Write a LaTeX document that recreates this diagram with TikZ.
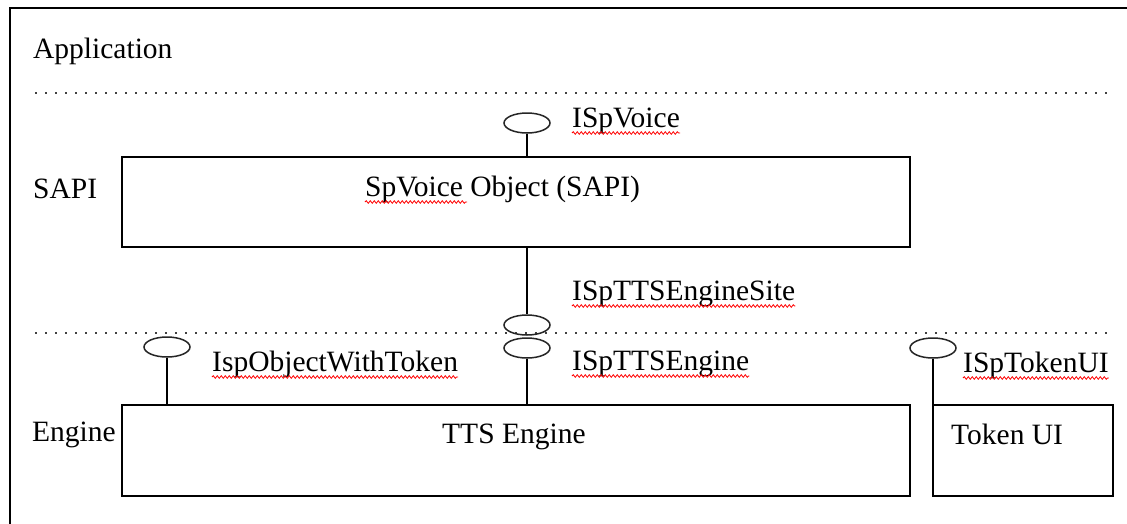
\documentclass[tikz,border=0pt]{standalone}
\usepackage{fontspec}
\setmainfont{Liberation Serif}
\usetikzlibrary{shapes.geometric,decorations.pathmorphing}
\begin{document}
\begin{tikzpicture}[x=1pt,y=-1pt,
  lbl/.style={anchor=base west,inner sep=0pt,font=\fontsize{29.5}{34}\selectfont},
  boxst/.style={draw,line width=1.5pt,rectangle,inner sep=0pt},
  lolli/.style={draw,ellipse,line width=1.5pt,minimum width=46pt,minimum height=20pt,inner sep=0pt,black!85},
  stem/.style={line width=1.5pt},
  sepline/.style={line width=1.6pt,dash pattern=on 1.6pt off 8.4pt,black!75},
  spell/.style={red,line width=0.8pt,decorate,decoration={snake,amplitude=1.3pt,segment length=4pt}}
]
\useasboundingbox (0,0) rectangle (1127,523);
\clip (0,0) rectangle (1127,523);
\fill[white] (0,0) rectangle (1127,523);
% outer frame (continues beyond the right and bottom edges)
\coordinate (fTR) at (1140,8);
\coordinate (fTL) at (10,8);
\coordinate (fBL) at (10,540);
\draw[line width=1.8pt] (fTR) -- (fTL) -- (fBL);

% layer separators
\coordinate (d1a) at (35,93);
\coordinate (d1b) at (1110,93);
\coordinate (d2a) at (35,333);
\coordinate (d2b) at (1110,333);
\draw[sepline] (d1a) -- (d1b);
\draw[sepline] (d2a) -- (d2b);

% layer labels
\node[lbl] (app) at (33,58) {Application};
\node[lbl] (sapil) at (33,198) {SAPI};
\node[lbl] (engl) at (32,441) {Engine};

% boxes
\node[boxst,minimum width=788pt,minimum height=90pt] (sapi) at (516,202) {};
\node[boxst,minimum width=788pt,minimum height=91pt] (tts) at (516,450.5) {};
\node[boxst,minimum width=180pt,minimum height=91pt] (tok) at (1023,450.5) {};

\node[lbl] (sv) at (365,196) {SpVoice Object (SAPI)};
\node[lbl] (ttst) at (442,443) {TTS Engine};
\node[lbl] (tokt) at (951,444) {Token UI};

% lollipops
\node[lolli] (voiceL) at (527,123) {};
\node[lolli] (siteL) at (527,325) {};
\node[lolli] (engL) at (527,348) {};
\node[lolli] (owtL) at (167,347) {};
\node[lolli] (tokL) at (933,348) {};

\draw[stem] (voiceL) -- (voiceL |- sapi.north);
\draw[stem] (sapi.south -| siteL) -- (siteL);
\draw[stem] (engL) -- (engL |- tts.north);
\draw[stem] (owtL) -- (owtL |- tts.north);
\draw[stem] (tokL) -- (tokL |- tok.north);

% interface labels
\node[lbl] (voice) at (572,127) {ISpVoice};
\node[lbl] (site) at (572,300) {ISpTTSEngineSite};
\node[lbl] (eng) at (572,370) {ISpTTSEngine};
\node[lbl] (owt) at (212,371) {IspObjectWithToken};
\node[lbl] (tui) at (963,372) {ISpTokenUI};

% spell-check underlines
\draw[spell] ([yshift=-6pt]voice.base west) -- ([yshift=-6pt]voice.base east);
\draw[spell] ([yshift=-6pt]site.base west) -- ([yshift=-6pt]site.base east);
\draw[spell] ([yshift=-6pt]eng.base west) -- ([yshift=-6pt]eng.base east);
\draw[spell] ([yshift=-6pt]owt.base west) -- ([yshift=-6pt]owt.base east);
\draw[spell] ([yshift=-6pt]tui.base west) -- ([yshift=-6pt]tui.base east);
\draw[spell] ([yshift=-6pt]sv.base west) -- ++(102,0);
\end{tikzpicture}
\end{document}
